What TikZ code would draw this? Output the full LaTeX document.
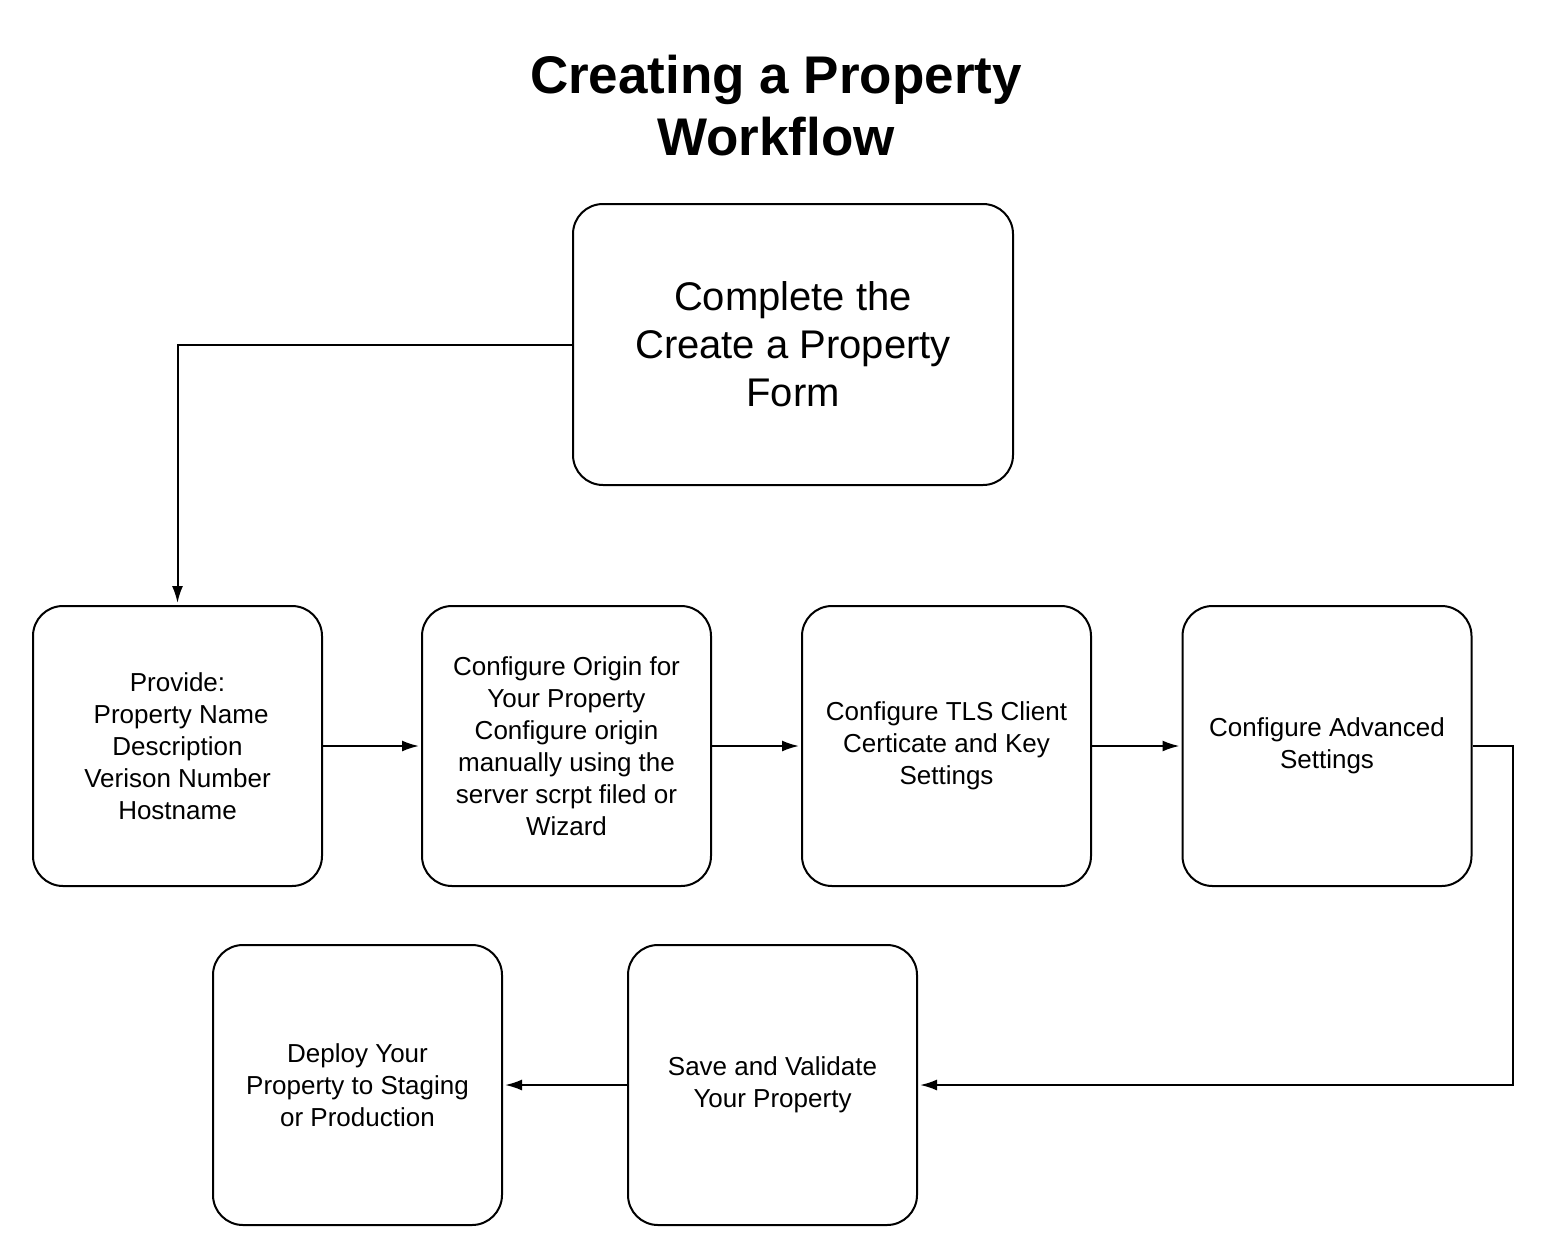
\documentclass[tikz,border=0pt]{standalone}
\usepackage{fontspec}
\setmainfont{Liberation Sans}
\usetikzlibrary{arrows.meta}
\begin{document}
\begin{tikzpicture}[x=1pt, y=-1pt, >={Latex[length=17pt,width=11pt]},
  stepbox/.style={draw, line width=2pt, rounded corners=30pt, minimum width=289pt,
    minimum height=280pt, align=center, font=\fontsize{26}{32}\selectfont},
  flow/.style={->, line width=2pt, shorten >=2pt}]
  \useasboundingbox (0,0) rectangle (1541,1250);

  % Title
  \node[align=center, font=\fontsize{53}{62}\bfseries] (title) at (776,106)
    {Creating a Property\\Workflow};

  % Start box
  \node[stepbox, minimum width=440pt, minimum height=281pt,
    font=\fontsize{40}{48}\selectfont] (form) at (793,344.5)
    {Complete the\\Create a Property\\Form};

  % Top row
  \node[stepbox] (provide) at (177.5,746)
    {Provide:\\ \ Property Name\\Description\\Verison Number\\Hostname};
  \node[stepbox] (origin) at (566.5,746)
    {Configure Origin for\\Your Property\\Configure origin\\manually using the\\server scrpt filed or\\Wizard};
  \node[stepbox] (tls) at (946.5,746) {Configure TLS Client\\Certicate and Key\\Settings};
  \node[stepbox] (advanced) at (1327,746) {Configure Advanced\\Settings};

  % Bottom row
  \node[stepbox] (save) at (772.5,1085) {Save and Validate\\Your Property};
  \node[stepbox] (deploy) at (357.5,1085) {Deploy Your\\Property to Staging\\or Production};

  % Connectors
  \draw[flow] (form.west) -| (provide.north);
  \draw[flow] (provide) -- (origin);
  \draw[flow] (origin) -- (tls);
  \draw[flow] (tls) -- (advanced);
  \draw[flow] (advanced.east) -- ++(40,0) |- (save.east);
  \draw[flow] (save) -- (deploy);
\end{tikzpicture}
\end{document}
